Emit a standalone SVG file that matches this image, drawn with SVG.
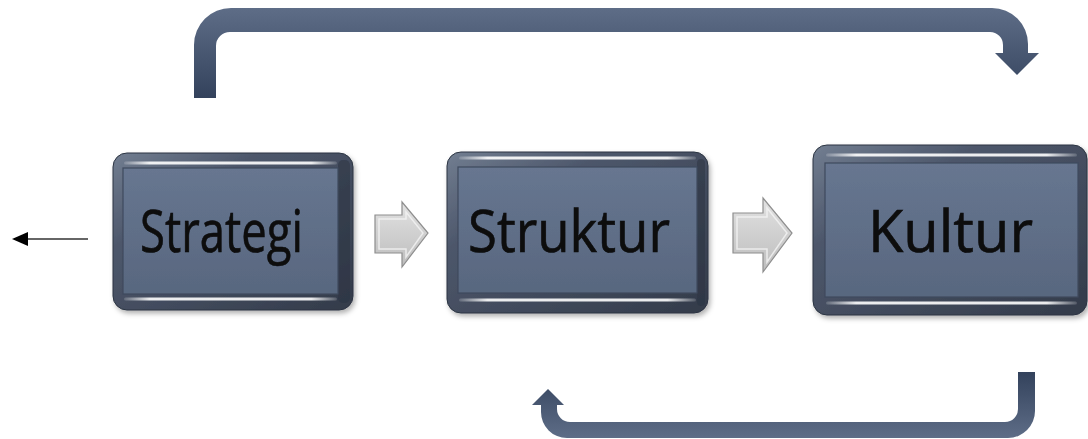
<svg xmlns="http://www.w3.org/2000/svg" width="1088" height="439" viewBox="0 0 1088 439">
  <defs>
    <style>
      .frame { fill: url(#frameGrad); stroke: #2c3442; stroke-width: 1; }
      .face { fill: url(#faceGrad); stroke: #3f4a5e; stroke-width: 1.2; }
      .shade { fill: #2a3240; opacity: 0.5; }
      .hl { fill: url(#hlGrad); }
      .label { font-family: "Open Sans", "Noto Sans", "Liberation Sans", sans-serif; font-size: 58px; fill: #0b0b0b; stroke: #0b0b0b; stroke-width: 0.6; }
      .step { fill: url(#stepGrad); stroke: #8e8e8e; stroke-width: 1.2; }
      .step-in { fill: none; stroke: #f4f4f4; stroke-width: 1.5; opacity: 0.8; }
      .loop-top { fill: url(#topGrad); }
      .loop-bottom { fill: url(#bottomGrad); }
      .thin { stroke: #333333; stroke-width: 1.6; fill: none; }
    </style>
    <linearGradient id="frameGrad" x1="0" y1="0" x2="1" y2="1">
      <stop offset="0" stop-color="#727e91"/>
      <stop offset="0.3" stop-color="#4d576b"/>
      <stop offset="1" stop-color="#333b4a"/>
    </linearGradient>
    <linearGradient id="faceGrad" x1="0" y1="0" x2="0" y2="1">
      <stop offset="0" stop-color="#677690"/>
      <stop offset="1" stop-color="#58677f"/>
    </linearGradient>
    <linearGradient id="hlGrad" x1="0" y1="0" x2="1" y2="0">
      <stop offset="0" stop-color="#ffffff" stop-opacity="0.15"/>
      <stop offset="0.12" stop-color="#ffffff" stop-opacity="0.9"/>
      <stop offset="0.88" stop-color="#ffffff" stop-opacity="0.9"/>
      <stop offset="1" stop-color="#ffffff" stop-opacity="0.15"/>
    </linearGradient>
    <linearGradient id="stepGrad" x1="0" y1="0" x2="0" y2="1">
      <stop offset="0" stop-color="#e2e2e2"/>
      <stop offset="1" stop-color="#bdbdbd"/>
    </linearGradient>
    <linearGradient id="topGrad" gradientUnits="userSpaceOnUse" x1="0" y1="8" x2="0" y2="98">
      <stop offset="0" stop-color="#5e6d87"/>
      <stop offset="1" stop-color="#33425c"/>
    </linearGradient>
    <linearGradient id="bottomGrad" gradientUnits="userSpaceOnUse" x1="0" y1="372" x2="0" y2="438">
      <stop offset="0" stop-color="#33425c"/>
      <stop offset="1" stop-color="#5e6d87"/>
    </linearGradient>
    <filter id="soft" x="-10%" y="-10%" width="125%" height="130%">
      <feDropShadow dx="2" dy="3" stdDeviation="2.5" flood-color="#000000" flood-opacity="0.3"/>
    </filter>
    <marker id="head" viewBox="0 0 16 14" refX="14" refY="7" markerWidth="16" markerHeight="14" markerUnits="userSpaceOnUse" orient="auto">
      <path d="M0,0 L16,7 L0,14 Z" fill="#000000"/>
    </marker>
  </defs>

  <!-- feedback loops and step arrows -->
  <g id="connectors">
    <!-- loop over the top: Strategi to Kultur -->
    <path class="loop-top" d="M194,98 L194,45 A37,37 0 0 1 231,8 L992,8 A36,36 0 0 1 1028,44 L1028,53 L1039,53 L1017,75 L995,53 L1003,53 L1003,45 A13,13 0 0 0 990,32 L230,32 A14,14 0 0 0 216,46 L216,98 Z"/>
    <!-- loop underneath: Kultur back towards Struktur -->
    <path class="loop-bottom" d="M1035,372 L1035,411 A27,27 0 0 1 1008,438 L567,438 A26,26 0 0 1 541,412 L541,405 L532,405 L548,389 L564,405 L557,405 L557,409 A13,13 0 0 0 570,422 L1005,422 A13,13 0 0 0 1018,409 L1018,372 Z"/>
    <!-- outgoing arrow on the left -->
    <line class="thin" x1="88" y1="239" x2="14" y2="239" marker-end="url(#head)"/>
    <!-- step arrow Strategi to Struktur -->
    <g>
      <path class="step" d="M375,215 L402,215 L402,202 L428,233 L402,267 L402,253 L375,253 Z"/>
      <path class="step-in" d="M379,219 L406,219 L406,212 L423,233 L406,257 L406,249 L379,249 Z"/>
    </g>
    <!-- step arrow Struktur to Kultur -->
    <g>
      <path class="step" d="M733,213 L763,213 L763,198 L792,233 L763,272 L763,253 L733,253 Z"/>
      <path class="step-in" d="M737,217 L767,217 L767,208 L787,233 L767,262 L767,249 L737,249 Z"/>
    </g>
  </g>

  <g id="strategi" filter="url(#soft)">
    <rect class="frame" x="113" y="153" width="240" height="157" rx="14"/>
    <rect class="shade" x="338" y="160" width="12" height="143" rx="5"/>
    <rect class="face" x="123" y="168" width="215" height="126"/>
    <rect class="hl" x="124" y="161.5" width="213" height="3" rx="1.5"/>
    <rect class="hl" x="124" y="297.5" width="213" height="3" rx="1.5"/>
    <text class="label" x="140" y="252" textLength="163" lengthAdjust="spacingAndGlyphs">Strategi</text>
  </g>

  <g id="struktur" filter="url(#soft)">
    <rect class="frame" x="447" y="152" width="261" height="161" rx="14"/>
    <rect class="shade" x="697" y="159" width="8" height="147" rx="4"/>
    <rect class="face" x="458" y="167" width="239" height="126"/>
    <rect class="hl" x="459" y="156.5" width="237" height="3" rx="1.5"/>
    <rect class="hl" x="459" y="298.5" width="237" height="3" rx="1.5"/>
    <text class="label" x="468" y="252" textLength="202" lengthAdjust="spacingAndGlyphs">Struktur</text>
  </g>

  <g id="kultur" filter="url(#soft)">
    <rect class="frame" x="813" y="145" width="274" height="170" rx="14"/>
    <rect class="face" x="825" y="163" width="253" height="134"/>
    <rect class="hl" x="826" y="153.5" width="251" height="3" rx="1.5"/>
    <rect class="hl" x="826" y="301.5" width="251" height="3" rx="1.5"/>
    <text class="label" x="868" y="252" textLength="165" lengthAdjust="spacingAndGlyphs">Kultur</text>
  </g>
</svg>
